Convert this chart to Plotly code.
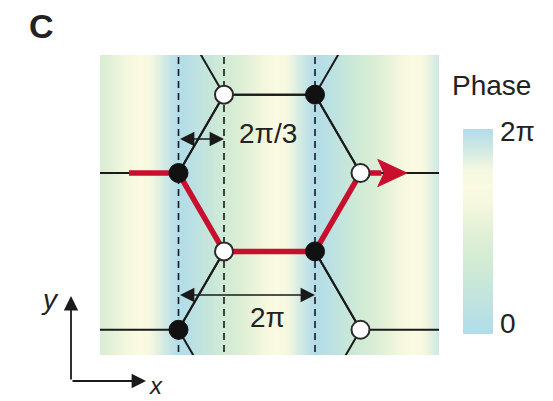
import numpy as np
import plotly.graph_objects as go

# ---- lattice data (units of the bond length a) ----
H = np.sqrt(3) / 2
filled_x = [0.0, 1.5, 1.5, 0.0]          # sublattice A (black sites)
filled_y = [0.0, H, -H, -2 * H]
open_x = [0.5, 2.0, 0.5, 2.0]            # sublattice B (white sites)
open_y = [H, 0.0, -H, -2 * H]

# bond directions from an A site to its three B neighbours
bond_dirs = [(-1.0, 0.0), (0.5, H), (0.5, -H)]

# red path through the lattice (start, sites..., end of shaft)
path_x = [-0.544, 0.0, 0.5, 1.5, 2.0, 2.23]
path_y = [0.0, 0.0, -H, -H, 0.0, 0.0]
arrow_tip = 2.51

# phase stripes: phase advances by 2*pi over 1.5 a along x
phase_period = 1.5
dashed_x = [0.0, 0.5, 1.5]

# measurement arrows
small_arrow = dict(x0=0.0, x1=0.5, y=0.376, label="2π/3")
big_arrow = dict(x0=0.0, x1=1.5, y=-1.348, label="2π")

X_RANGE = [-0.8626, 2.8626]
Y_RANGE = [-2.011, 1.304]

phase_colors = [
    [0.00, "#b2dcea"],
    [0.08, "#b8dfe5"],
    [0.20, "#c4e5dc"],
    [0.35, "#d2ebd4"],
    [0.48, "#dfefd6"],
    [0.62, "#f3f7dd"],
    [0.72, "#fbfae2"],
    [0.80, "#f5f8e0"],
    [0.90, "#d0e9e3"],
    [1.00, "#b2dcea"],
]

W, HGT = 553, 401


def px(x):
    return x / W


def py(y):
    return 1 - y / HGT


fig = go.Figure()

# background phase field
gx = np.arange(X_RANGE[0] - 0.02, X_RANGE[1] + 0.02, 0.004)
gphase = 2 * np.pi * np.mod(gx / phase_period, 1.0)
fig.add_trace(go.Heatmap(
    x=gx, y=[Y_RANGE[0] - 0.1, Y_RANGE[1] + 0.1],
    z=np.vstack([gphase, gphase]),
    colorscale=phase_colors, zmin=0, zmax=2 * np.pi,
    colorbar=dict(
        x=px(463), xanchor="left", y=py(231.5), yanchor="middle",
        xpad=0, ypad=0,
        thickness=30, thicknessmode="pixels", len=205, lenmode="pixels",
        outlinewidth=0, showticklabels=False, ticks="",
    ),
    hoverinfo="skip",
))

# dashed guides
for xv in dashed_x:
    fig.add_trace(go.Scatter(
        x=[xv, xv], y=[Y_RANGE[0] - 0.1, Y_RANGE[1] + 0.1], mode="lines",
        line=dict(color="#1a1a1a", width=1.6, dash="7px,5px"),
        hoverinfo="skip", showlegend=False,
    ))

# bonds
bx, by = [], []
for ax_, ay_ in zip(filled_x, filled_y):
    for dx, dy in bond_dirs:
        bx += [ax_, ax_ + dx, None]
        by += [ay_, ay_ + dy, None]
for bx_, by_ in zip(open_x, open_y):
    for dx, dy in bond_dirs:
        bx += [bx_, bx_ - dx, None]
        by += [by_, by_ - dy, None]
fig.add_trace(go.Scatter(x=bx, y=by, mode="lines",
                         line=dict(color="#1a1a1a", width=2),
                         hoverinfo="skip", showlegend=False))

# red path and arrow head
fig.add_trace(go.Scatter(x=path_x, y=path_y, mode="lines",
                         line=dict(color="#c8102e", width=5.5),
                         hoverinfo="skip", showlegend=False))
hx = [arrow_tip, path_x[-1] - 0.04, path_x[-1] + 0.03, path_x[-1] - 0.04, arrow_tip]
hy = [0.0, 0.15, 0.0, -0.15, 0.0]
fig.add_trace(go.Scatter(x=hx, y=hy, mode="lines", fill="toself",
                         fillcolor="#c8102e", line=dict(color="#c8102e", width=1),
                         hoverinfo="skip", showlegend=False))

# sites
fig.add_trace(go.Scatter(x=filled_x, y=filled_y, mode="markers",
                         marker=dict(size=19, color="#111111",
                                     line=dict(color="#111111", width=1)),
                         hoverinfo="skip", showlegend=False))
fig.add_trace(go.Scatter(x=open_x, y=open_y, mode="markers",
                         marker=dict(size=18, color="white",
                                     line=dict(color="#2a2a2a", width=2)),
                         hoverinfo="skip", showlegend=False))

FONT = "Liberation Sans, Arial, Helvetica, sans-serif"
TXT = dict(family=FONT, size=28, color="#222")


def label(x, y, text, xanchor="center", font=TXT):
    return dict(x=px(x), y=py(y), xref="paper", yref="paper", text=text,
                showarrow=False, xanchor=xanchor, yanchor="middle", font=font)


ann = []
for arr in (small_arrow, big_arrow):
    ann.append(dict(x=arr["x1"], y=arr["y"], ax=arr["x0"], ay=arr["y"],
                    xref="x", yref="y", axref="x", ayref="y", text="",
                    showarrow=True, arrowside="end+start", arrowhead=2,
                    arrowsize=1.8, arrowwidth=1.6, arrowcolor="#1a1a1a",
                    standoff=0, startstandoff=0))
ann.append(label(268, 133, small_arrow["label"]))
ann.append(label(267, 317, big_arrow["label"]))

# colour bar labels
ann.append(label(491, 86, "Phase"))
ann.append(label(498, 131, "2π", xanchor="left"))
ann.append(label(498, 323, "0", xanchor="left"))

# panel letter
ann.append(label(41, 26, "<b>C</b>", font=dict(family=FONT, size=34, color="#222")))

# coordinate axes indicator
ann.append(dict(x=px(71), y=py(296), xref="paper", yref="paper",
                ax=0, ay=85, text="", showarrow=True, arrowhead=2,
                arrowsize=1.6, arrowwidth=1.8, arrowcolor="#1a1a1a", standoff=0))
ann.append(dict(x=px(146), y=py(381), xref="paper", yref="paper",
                ax=-75, ay=0, text="", showarrow=True, arrowhead=2,
                arrowsize=1.6, arrowwidth=1.8, arrowcolor="#1a1a1a", standoff=0))
ann.append(label(50, 299, "<i>y</i>"))
ann.append(label(156, 385, "<i>x</i>", font=dict(family=FONT, size=24, color="#222")))

fig.update_layout(
    width=W, height=HGT, margin=dict(l=0, r=0, t=0, b=0),
    paper_bgcolor="white", plot_bgcolor="white",
    xaxis=dict(domain=[px(100), px(439)], range=X_RANGE, visible=False,
               fixedrange=True),
    yaxis=dict(domain=[py(355), py(55)], range=Y_RANGE,
               visible=False, fixedrange=True),
    annotations=ann, showlegend=False,
)

fig.write_html("out.html")
